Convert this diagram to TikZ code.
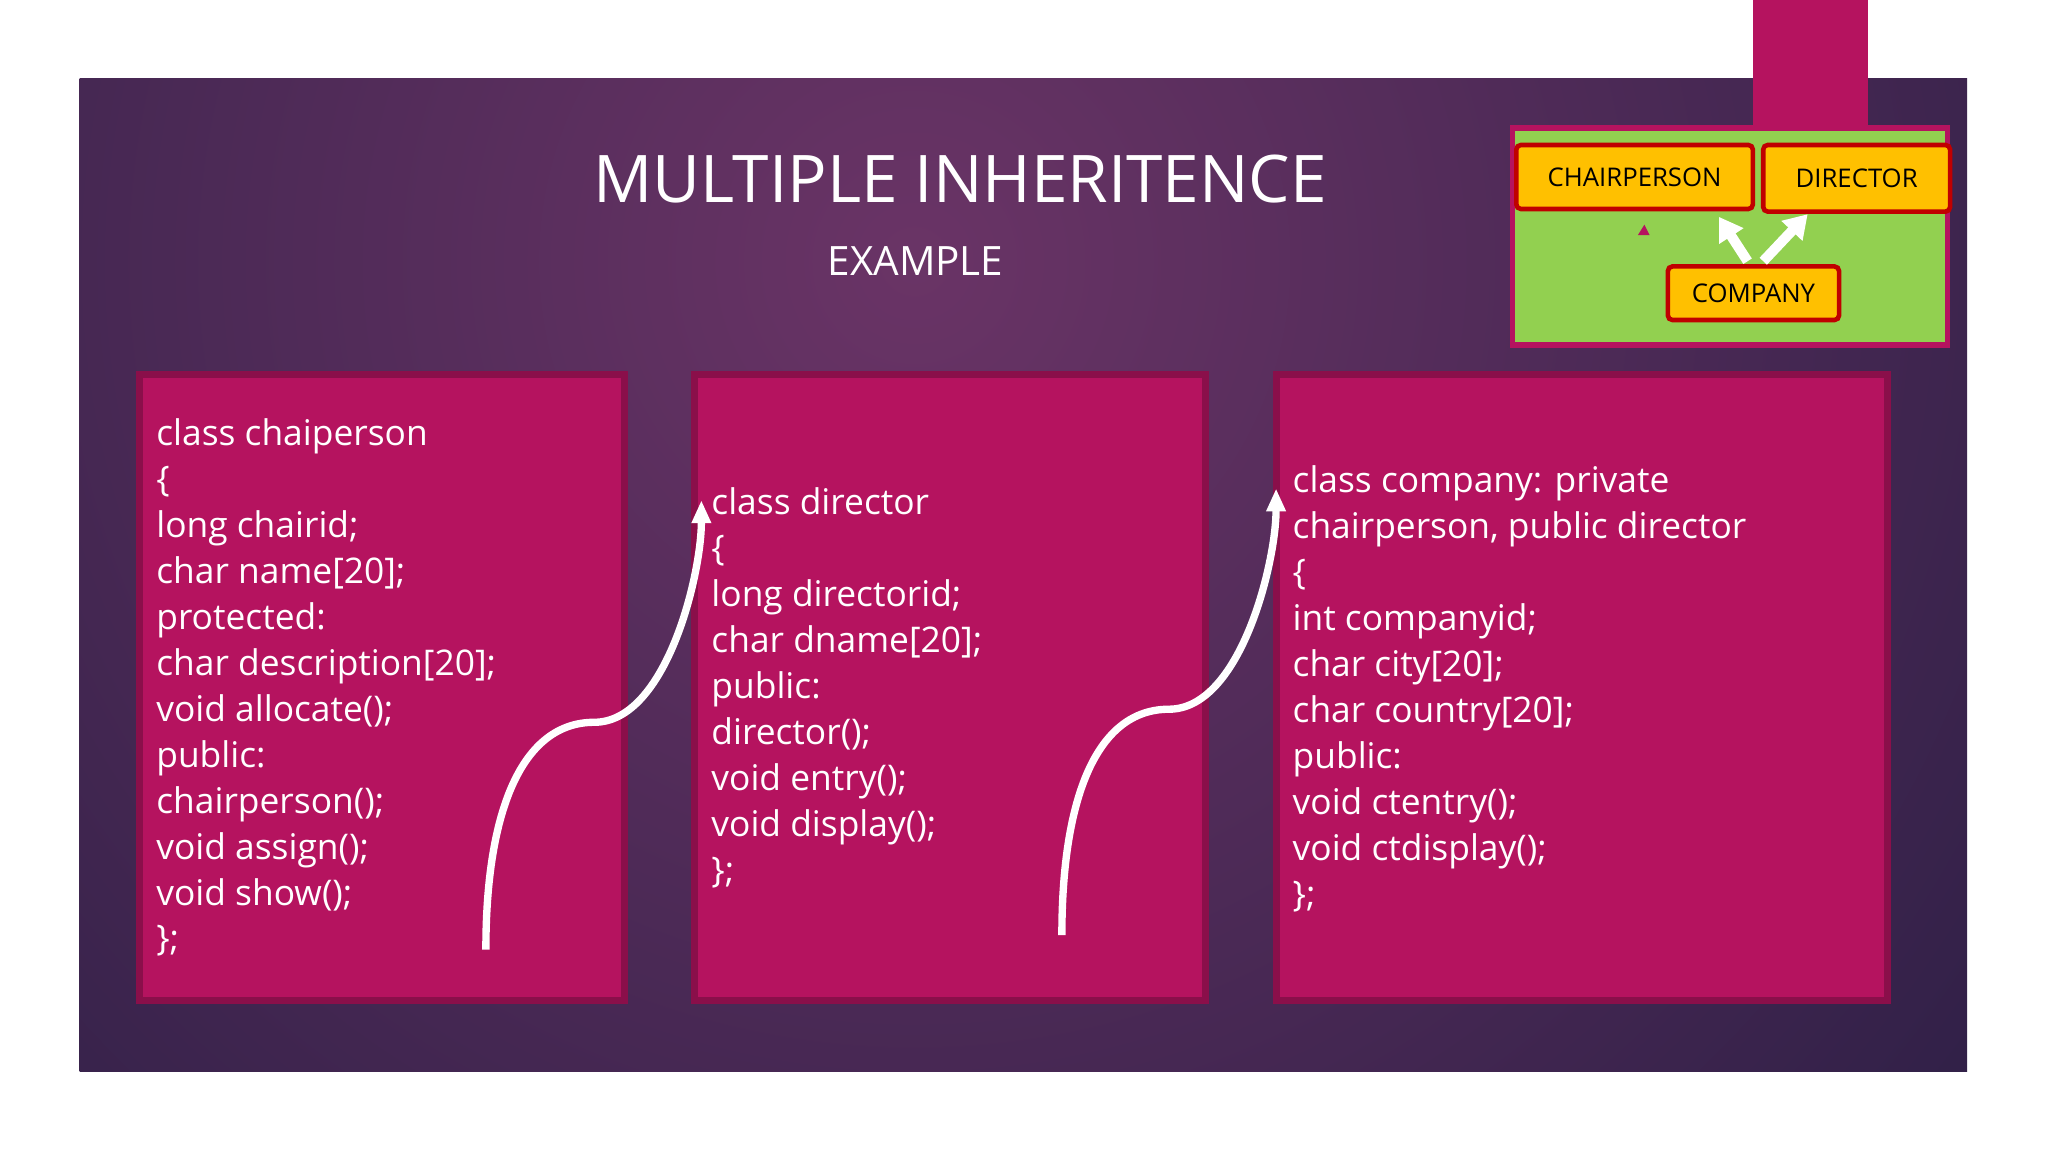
\documentclass[tikz,border=0pt]{standalone}
\usepackage{fontspec}
\setmainfont{Open Sans}
\usetikzlibrary{arrows.meta}
\definecolor{mag}{HTML}{B5135F}
\definecolor{magd}{HTML}{8A0F4A}
\definecolor{pin}{HTML}{6A3466}
\definecolor{pout}{HTML}{2A1E44}
\definecolor{grn}{HTML}{92D050}
\definecolor{yel}{HTML}{FFC000}
\definecolor{red}{HTML}{C00000}
\tikzset{
 box/.style={draw=magd,line width=1.5pt,fill=mag},
 code/.style={anchor=north west,align=left,text=white,font=\fontsize{7.7}{10}\selectfont,inner sep=0},
 small/.style={draw=red,line width=1pt,fill=yel,rounded corners=1pt,inner sep=0,font=\fontsize{5.6}{6}\selectfont},
 curve/.style={white,line width=1.6pt,-{Triangle[length=5pt,width=4pt]}}
}
\begin{document}
\begin{tikzpicture}[x=0.01cm,y=-0.01cm]
\useasboundingbox (0,0) rectangle (1568,882);
\fill[white] (0,0) rectangle (1568,882);
\begin{scope}
\clip (61,60) rectangle (1506,820);
\shade[inner color=pin,outer color=pout] (700,200) circle (1150);
\end{scope}
\fill[mag] (1342,0) rectangle (1430,100);
\draw[fill=grn,draw=mag,line width=1.2pt] (1158,98) rectangle (1491,264);
\node[small,minimum width=1.81cm,minimum height=0.49cm] (ch) at (1251.5,135.5) {CHAIRPERSON};
\node[small,minimum width=1.43cm,minimum height=0.51cm] (di) at (1421.5,136.5) {DIRECTOR};
\node[small,minimum width=1.31cm,minimum height=0.41cm] (co) at (1342.5,224.5) {COMPANY};
\coordinate (a1) at (1338,200); \coordinate (a2) at (1316,166);
\coordinate (b1) at (1350,200); \coordinate (b2) at (1384,164);
\draw[white,line width=2.2pt,-{Triangle[length=5pt,width=6pt]}] (a1) -- (a2);
\draw[white,line width=2.2pt,-{Triangle[length=5pt,width=6pt]}] (b1) -- (b2);
\fill[mag] (1254,180) -- (1263,180) -- (1259,172) -- cycle;
\node[text=white,font=\fontsize{14.3}{16}\selectfont] (t) at (735,137) {MULTIPLE INHERITENCE};
\node[text=white,font=\fontsize{8.8}{10}\selectfont] (e) at (701,200) {EXAMPLE};
\draw[box] (107,287) rectangle (478,766);
\draw[box] (532,287) rectangle (923,766);
\draw[box] (977,287) rectangle (1445,766);
\node[code] (c1) at (119,320) {class chaiperson\\\{\\long chairid;\\char name[20];\\protected:\\char description[20];\\void allocate();\\public:\\chairperson();\\void assign();\\void show();\\\};};
\node[code] (c2) at (544,373) {class director\\\{\\long directorid;\\char dname[20];\\public:\\director();\\void entry();\\void display();\\\};};
\node[code] (c3) at (989,356) {class company: private\\chairperson, public director\\\{\\int companyid;\\char city[20];\\char country[20];\\public:\\void ctentry();\\void ctdisplay();\\\};};
\coordinate (s1) at (372,727); \coordinate (e1) at (537,383);
\coordinate (s2) at (813,716); \coordinate (e2) at (977,374);
\draw[curve] (s1) .. controls (372,620) and (400,553) .. (455,553) .. controls (510,553) and (537,440) .. (e1);
\draw[curve] (s2) .. controls (813,610) and (840,543) .. (895,543) .. controls (950,543) and (977,430) .. (e2);
\end{tikzpicture}
\end{document}
